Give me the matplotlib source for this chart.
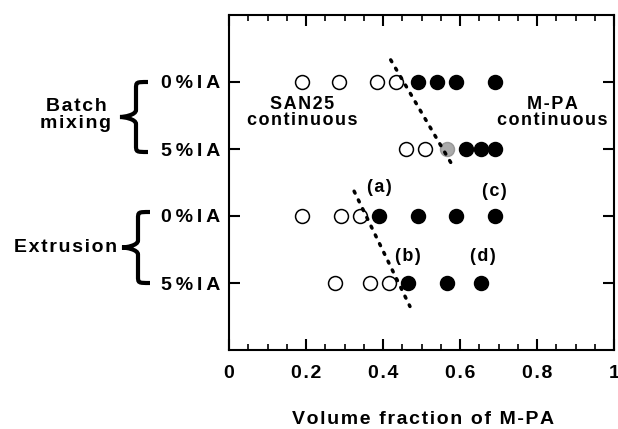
import matplotlib
matplotlib.use("Agg")
import matplotlib.pyplot as plt
from matplotlib.path import Path
from matplotlib.patches import PathPatch
from matplotlib.ticker import MultipleLocator

plt.rcParams['font.family'] = ['Liberation Sans', 'DejaVu Sans']
plt.rcParams['font.weight'] = 'bold'

# rows, top to bottom
row_labels = ['0%IA', '5%IA', '0%IA', '5%IA']
groups = ['Batch\nmixing', 'Extrusion']

batch0_open = [0.19, 0.285, 0.385, 0.435]
batch0_filled = [0.49, 0.54, 0.59, 0.69]
batch5_open = [0.46, 0.51]
batch5_grey = [0.565]
batch5_filled = [0.615, 0.655, 0.69]
ext0_open = [0.19, 0.29, 0.34]
ext0_filled = [0.39, 0.49, 0.59, 0.69]
ext5_open = [0.275, 0.365, 0.415]
ext5_filled = [0.465, 0.565, 0.655]

batch_line_x = [0.42, 0.585]
batch_line_y = [4.33, 2.71]
ext_line_x = [0.325, 0.47]
ext_line_y = [2.37, 0.65]


def sp(s, gap='\u200a'):
    # wide letter spacing like the original typesetting
    return '\n'.join(gap.join(line) for line in s.split('\n'))


W, H = 618, 429
fig = plt.figure(figsize=(W / 100, H / 100), dpi=100)
ax = fig.add_axes([229 / W, 1 - 350 / H, 385 / W, 335 / H])

rows = [4, 3, 2, 1]
ms = 10
FS = 14


def draw_row(y, xs, face, edge='black'):
    ax.plot(xs, [y] * len(xs), 'o', ms=ms, mfc=face, mec=edge, mew=1.1, zorder=3)


draw_row(rows[0], batch0_open, 'white')
draw_row(rows[0], batch0_filled, 'black')
draw_row(rows[1], batch5_open, 'white')
draw_row(rows[1], batch5_grey, '#aaaaaa', '#999999')
draw_row(rows[1], batch5_filled, 'black')
draw_row(rows[2], ext0_open, 'white')
draw_row(rows[2], ext0_filled, 'black')
draw_row(rows[3], ext5_open, 'white')
draw_row(rows[3], ext5_filled, 'black')

ax.plot(batch_line_x, batch_line_y, color='black', lw=2.5, ls=(0, (0.6, 2.2)),
        dash_capstyle='round', zorder=4)
ax.plot(ext_line_x, ext_line_y, color='black', lw=2.5, ls=(0, (0.6, 2.2)),
        dash_capstyle='round', zorder=4)

tf = dict(fontsize=13, fontweight='bold', ha='center', va='center')
ax.text(0.19, 3.54, sp('SAN25\ncontinuous'), linespacing=0.95, **tf)
ax.text(0.84, 3.54, sp('M-PA\ncontinuous'), linespacing=0.95, **tf)
ax.text(0.39, 2.42, sp('(a)'), **tf)
ax.text(0.69, 2.36, sp('(c)'), **tf)
ax.text(0.465, 1.40, sp('(b)'), **tf)
ax.text(0.66, 1.39, sp('(d)'), **tf)

ax.set_xlim(0, 1)
ax.set_ylim(0, 5)
ax.xaxis.set_minor_locator(MultipleLocator(0.05))
ax.set_xticks([0, 0.2, 0.4, 0.6, 0.8, 1.0])
ax.set_xticklabels([sp(t) for t in ['0', '0.2', '0.4', '0.6', '0.8', '1']])
ax.set_yticks(rows)
ax.set_yticklabels([sp(t, '\u2009') for t in row_labels])
ax.tick_params(axis='x', which='major', direction='in', length=8, width=1.5,
               top=True, labelsize=FS, pad=11)
ax.tick_params(axis='x', which='minor', direction='in', length=4, width=1.2, top=True)
ax.tick_params(axis='y', which='major', direction='in', length=8, width=1.5,
               right=True, labelsize=FS, pad=6)
for lab in ax.get_xticklabels() + ax.get_yticklabels():
    lab.set_fontweight('bold')
for s in ax.spines.values():
    s.set_linewidth(1.5)

fig.text(423 / W, 1 - 419 / H, sp('Volume fraction of M-PA'), fontsize=FS,
         fontweight='bold', ha='center', va='center')


def brace(x_end, x_tip, y_top, y_bot):
    # left-pointing curly brace in figure pixels
    ym = (y_top + y_bot) / 2
    xm = (x_end + x_tip) / 2 + 2
    r = 7
    verts = [
        (x_end, y_top), (xm, y_top), (xm, y_top), (xm, y_top + r),
        (xm, ym - r),
        (xm, ym - 2), (x_tip + 4, ym), (x_tip, ym),
        (x_tip + 4, ym), (xm, ym + 2), (xm, ym + r),
        (xm, y_bot - r),
        (xm, y_bot), (xm, y_bot), (x_end, y_bot),
    ]
    codes = [Path.MOVETO, Path.CURVE4, Path.CURVE4, Path.CURVE4,
             Path.LINETO,
             Path.CURVE4, Path.CURVE4, Path.CURVE4,
             Path.CURVE4, Path.CURVE4, Path.CURVE4,
             Path.LINETO,
             Path.CURVE4, Path.CURVE4, Path.CURVE4]
    v = [(x / W, 1 - y / H) for x, y in verts]
    fig.patches.append(PathPatch(Path(v, codes), transform=fig.transFigure,
                                 fill=False, lw=3, color='black'))


brace(148, 120, 82, 152)
brace(150, 122, 212, 283)
fig.text(76 / W, 1 - 115 / H, sp(groups[0]), fontsize=FS, fontweight='bold',
         ha='center', va='center', linespacing=1.0)
fig.text(66 / W, 1 - 247 / H, sp(groups[1]), fontsize=FS, fontweight='bold',
         ha='center', va='center')

fig.savefig('out.png', dpi=100)
